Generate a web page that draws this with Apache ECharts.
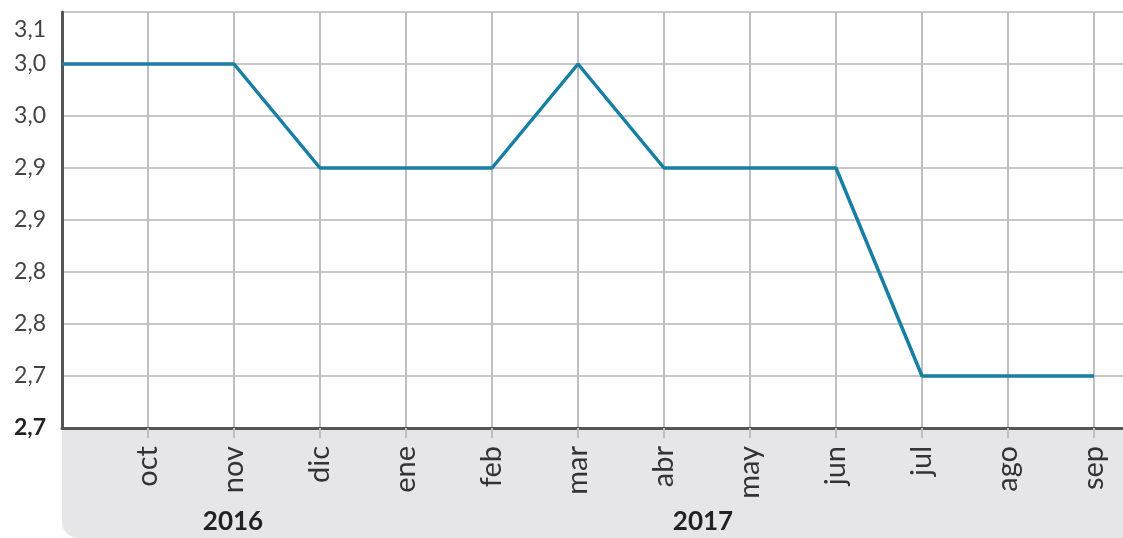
<!DOCTYPE html>
<html>
<head>
<meta charset="utf-8">
<script src="https://cdn.jsdelivr.net/npm/echarts@6/dist/echarts.min.js"></script>
<style>
html,body{margin:0;padding:0;background:#fff;}
#c{width:1123px;height:538px;}
</style>
</head>
<body>
<div id="c"></div>
<script>
var categories = ['', 'oct', 'nov', 'dic', 'ene', 'feb', 'mar', 'abr', 'may', 'jun', 'jul', 'ago', 'sep', ''];
var values = [3.0, 3.0, 3.0, 2.9, 2.9, 2.9, 3.0, 2.9, 2.9, 2.9, 2.7, 2.7, 2.7];
var yearLabels = ['2016', '2017'];
var yMin = 2.65, yMax = 3.05, yStep = 0.05;

function fmt(v) {
  var r = Math.round(Math.round(v * 100) / 10) / 10;
  return r.toFixed(1).replace('.', ',');
}

var chart = echarts.init(document.getElementById('c'));
var FONT = 'Lato, "Open Sans", sans-serif';
chart.setOption({
  animation: false,
  graphic: [
    { type: 'rect', left: 62, top: 428, z: -10,
      shape: { width: 1061, height: 110, r: [0, 0, 0, 16] },
      style: { fill: '#e6e6e8' } },
    { type: 'text', x: 233, y: 522, z: 10,
      style: { text: yearLabels[0], font: 'bold 26px ' + FONT, fill: '#222', align: 'center', verticalAlign: 'middle' } },
    { type: 'text', x: 703, y: 522, z: 10,
      style: { text: yearLabels[1], font: 'bold 26px ' + FONT, fill: '#222', align: 'center', verticalAlign: 'middle' } }
  ],
  grid: { left: 62, width: 1118, top: 12, height: 416, containLabel: false, outerBoundsMode: 'none' },
  xAxis: {
    type: 'category',
    data: categories,
    boundaryGap: false,
    axisLine: { show: true, lineStyle: { color: '#555', width: 3 } },
    axisTick: { show: true, length: 10, interval: function (i) { return i > 0; }, lineStyle: { color: '#bdbdc2', width: 2 } },
    splitLine: { show: true, lineStyle: { color: '#bdbdc2', width: 2 } },
    axisLabel: { rotate: 90, margin: 18, fontSize: 29, color: '#333', fontFamily: FONT, interval: 0 }
  },
  yAxis: {
    type: 'value',
    min: yMin, max: yMax, interval: yStep,
    axisLine: { show: true, lineStyle: { color: '#555', width: 3 } },
    axisTick: { show: false },
    splitLine: { show: true, lineStyle: { color: '#c8c8cc', width: 2 } },
    axisLabel: {
      margin: 16, fontSize: 23, color: '#444', fontFamily: FONT,
      formatter: function (v) {
        var s = fmt(v);
        if (Math.abs(v - yMin) < 1e-6) return '{b|' + s + '}';
        if (Math.abs(v - yMax) < 1e-6) return '{t|' + s + '}';
        return s;
      },
      rich: {
        b: { fontSize: 23, fontWeight: 'bold', color: '#222', fontFamily: FONT },
        t: { fontSize: 23, color: '#444', fontFamily: FONT, padding: [36, 0, 0, 0] }
      }
    }
  },
  series: [{
    type: 'line',
    data: values,
    showSymbol: false,
    symbol: 'none',
    lineStyle: { color: '#167fa3', width: 3.5 },
    z: 5
  }]
});
</script>
</body>
</html>
